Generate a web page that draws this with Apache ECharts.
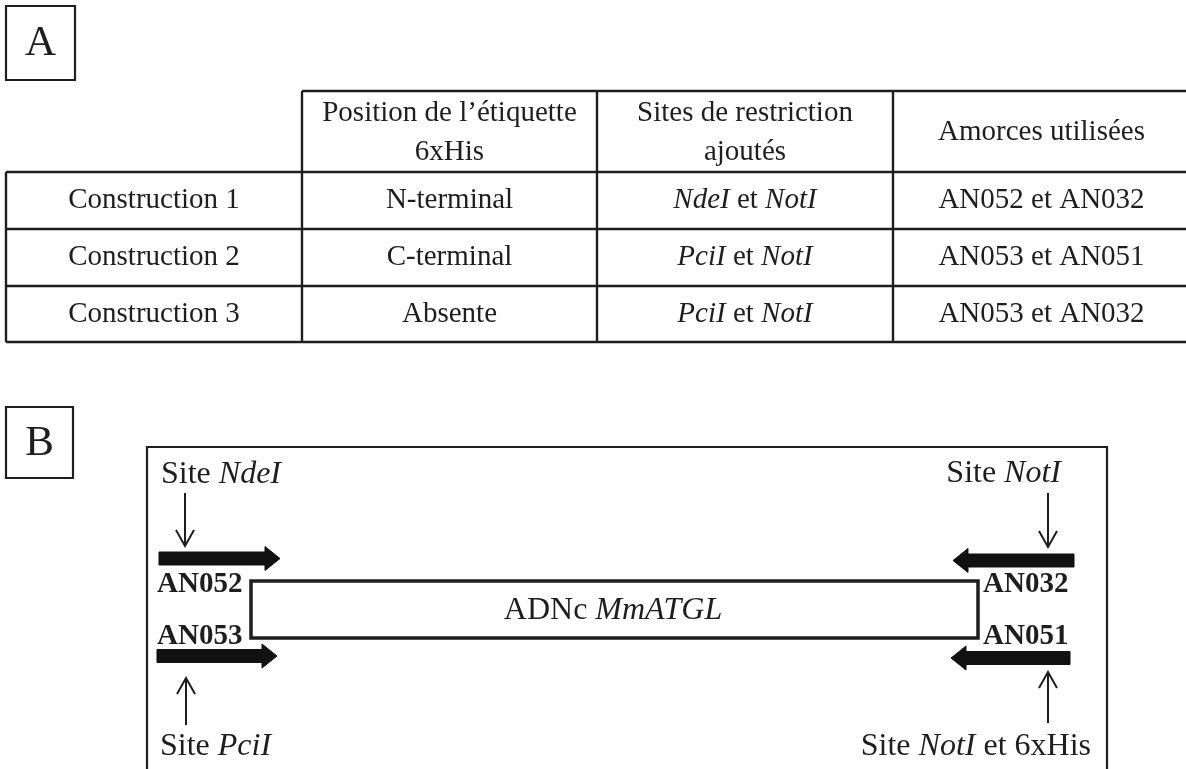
<!DOCTYPE html>
<html>
<head>
<meta charset="utf-8">
<script src="https://cdn.jsdelivr.net/npm/echarts@6/dist/echarts.min.js"></script>
<style>
html,body{margin:0;padding:0;background:#fff;}
#chart{width:1186px;height:769px;}
</style>
</head>
<body>
<div id="chart"></div>
<script>
// ---- content (text) ----
const panelLabels = ['A', 'B'];
const headerLabels = ['Position de l\u2019étiquette\n6xHis', 'Sites de restriction\najoutés', 'Amorces utilisées'];
const rowLabels = ['Construction 1', 'Construction 2', 'Construction 3'];
const tagPositions = ['N-terminal', 'C-terminal', 'Absente'];
const restrictionSites = ['{i|NdeI} et {i|NotI}', '{i|PciI} et {i|NotI}', '{i|PciI} et {i|NotI}'];
const primersUsed = ['AN052 et AN032', 'AN053 et AN051', 'AN053 et AN032'];
const forwardPrimers = ['AN052', 'AN053'];
const reversePrimers = ['AN032', 'AN051'];
const forwardSites = ['Site {i|NdeI}', 'Site {i|PciI}'];
const reverseSites = ['Site {i|NotI}', 'Site {i|NotI} et 6xHis'];
const geneLabel = 'ADNc {i|MmATGL}';

// ---- layout (positions in the 1186x769 coordinate frame) ----
const colEdges = [6, 302, 597, 893, 1190];
const rowEdges = [91, 172, 229, 286, 342];
const panelBoxes = [[6, 6, 75, 80], [6, 407, 73, 478]];
const frameB = [147, 447, 1107, 800];
const geneBox = [251, 581, 978, 638];
const fwdArrows = [[159, 280, 558.5], [157, 277, 656]];
const revArrows = [[1074, 953, 560.5], [1070, 951, 658]];
const thinArrows = [[185, 493, 546], [186, 725, 678], [1048, 493, 547], [1048, 723, 672]];
const fwdSitePos = [[161, 475], [160, 747]];
const revSitePos = [[1061, 474], [1091, 747]];
const fwdPrimerPos = [[157, 585], [157, 637]];
const revPrimerPos = [[983, 585], [983, 637]];
const genePos = [613, 611];

const SERIF = '"Liberation Serif", "Times New Roman", serif';
const INK = '#1e1e1e';

function renderAll(params, api) {
  const P = (x, y) => api.coord([x, y]);
  const ch = [];
  function line(x1, y1, x2, y2, w, c) {
    const a = P(x1, y1), b = P(x2, y2);
    ch.push({type: 'line', shape: {x1: a[0], y1: a[1], x2: b[0], y2: b[1]}, style: {stroke: c || INK, lineWidth: w, lineCap: 'butt'}});
  }
  function rect(x1, y1, x2, y2, w) {
    const a = P(x1, y1), b = P(x2, y2);
    ch.push({type: 'rect', shape: {x: a[0], y: a[1], width: b[0] - a[0], height: b[1] - a[1]}, style: {fill: 'none', stroke: INK, lineWidth: w}});
  }
  function poly(pts, closed) {
    const pp = pts.map(p => P(p[0], p[1]));
    ch.push({type: closed ? 'polygon' : 'polyline', shape: {points: pp},
      style: closed ? {fill: '#111', stroke: '#111', lineWidth: 1} : {fill: 'none', stroke: INK, lineWidth: 2}});
  }
  function text(str, x, y, align, size, weight) {
    const p = P(x, y);
    ch.push({type: 'text', x: p[0], y: p[1], style: {
      text: str, align: align, verticalAlign: 'middle',
      fontSize: size, fontFamily: SERIF, fontWeight: weight || 'normal',
      fill: INK, lineHeight: 39,
      rich: {i: {fontStyle: 'italic', fontSize: size, fontFamily: SERIF, fill: INK}}
    }});
  }

  // panel label boxes
  panelBoxes.forEach((b, k) => {
    rect(b[0], b[1], b[2], b[3], 2.2);
    text(panelLabels[k], (b[0] + b[2]) / 2, (b[1] + b[3]) / 2 + 1, 'center', 43);
  });

  // table grid
  const right = colEdges[colEdges.length - 1];
  line(colEdges[1], rowEdges[0], right, rowEdges[0], 2.4);
  for (let r = 1; r < rowEdges.length; r++) line(colEdges[0], rowEdges[r], right, rowEdges[r], 2.4);
  line(colEdges[0], rowEdges[1], colEdges[0], rowEdges[4], 2.4);
  for (let c = 1; c < 4; c++) line(colEdges[c], rowEdges[0], colEdges[c], rowEdges[4], 2.4);

  const cx = c => (colEdges[c] + colEdges[c + 1]) / 2;
  const cy = r => (rowEdges[r] + rowEdges[r + 1]) / 2;
  headerLabels.forEach((h, k) => text(h, cx(k + 1), cy(0) + 1, 'center', 29));
  rowLabels.forEach((lab, r) => {
    text(lab, cx(0), cy(r + 1), 'center', 29);
    text(tagPositions[r], cx(1), cy(r + 1), 'center', 29);
    text(restrictionSites[r], cx(2), cy(r + 1), 'center', 29);
    text(primersUsed[r], cx(3), cy(r + 1), 'center', 29);
  });

  // panel B frame and gene box
  rect(frameB[0], frameB[1], frameB[2], frameB[3], 2.2);
  rect(geneBox[0], geneBox[1], geneBox[2], geneBox[3], 3.5);
  text(geneLabel, genePos[0], genePos[1], 'center', 32);

  // thick primer arrows
  const bh = 6.5, hh = 12, hl = 15;
  fwdArrows.forEach(a => {
    const [x0, x1, y] = a;
    poly([[x0, y - bh], [x1 - hl, y - bh], [x1 - hl, y - hh], [x1, y], [x1 - hl, y + hh], [x1 - hl, y + bh], [x0, y + bh]], true);
  });
  revArrows.forEach(a => {
    const [x0, x1, y] = a;
    poly([[x0, y - bh], [x1 + hl, y - bh], [x1 + hl, y - hh], [x1, y], [x1 + hl, y + hh], [x1 + hl, y + bh], [x0, y + bh]], true);
  });

  // thin site arrows
  thinArrows.forEach(a => {
    const [x, yFrom, yTo] = a;
    line(x, yFrom, x, yTo, 2);
    const d = yTo > yFrom ? -1 : 1;
    poly([[x - 9, yTo + d * 16], [x, yTo], [x + 9, yTo + d * 16]], false);
  });

  // labels
  forwardSites.forEach((s, k) => text(s, fwdSitePos[k][0], fwdSitePos[k][1], 'left', 32));
  reverseSites.forEach((s, k) => text(s, revSitePos[k][0], revSitePos[k][1], 'right', 32));
  forwardPrimers.forEach((s, k) => text(s, fwdPrimerPos[k][0], fwdPrimerPos[k][1], 'left', 29, 'bold'));
  reversePrimers.forEach((s, k) => text(s, revPrimerPos[k][0], revPrimerPos[k][1], 'left', 29, 'bold'));

  return {type: 'group', children: ch};
}

const chart = echarts.init(document.getElementById('chart'), null, {renderer: 'canvas'});
chart.setOption({
  animation: false,
  backgroundColor: '#ffffff',
  grid: {left: 0, right: 0, top: 0, bottom: 0},
  xAxis: {type: 'value', min: 0, max: 1186, show: false, splitLine: {show: false}},
  yAxis: {type: 'value', min: 0, max: 769, inverse: true, show: false, splitLine: {show: false}},
  series: [{
    type: 'custom',
    coordinateSystem: 'cartesian2d',
    clip: false,
    silent: true,
    data: [[0, 0]],
    renderItem: renderAll
  }]
});
</script>
</body>
</html>
